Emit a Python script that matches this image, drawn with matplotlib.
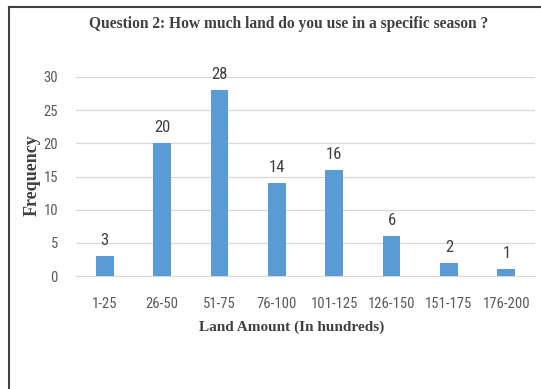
import matplotlib
matplotlib.use("Agg")
import matplotlib.pyplot as plt
from matplotlib.lines import Line2D
from matplotlib import font_manager

categories = ["1-25", "26-50", "51-75", "76-100", "101-125", "126-150", "151-175", "176-200"]
frequency = [3, 20, 28, 14, 16, 6, 2, 1]
yticks = [0, 5, 10, 15, 20, 25, 30]

# pick a narrow sans face when one is available
installed = {f.name for f in font_manager.fontManager.ttflist}
narrow = None
for name in ["Liberation Sans Narrow", "DejaVu Sans Condensed", "Roboto Condensed",
             "Open Sans Condensed"]:
    if name in installed:
        narrow = name
        break
if narrow is not None:
    tick_font, tick_size = [narrow, "DejaVu Sans"], 10.5
else:
    tick_font, tick_size = ["Liberation Sans", "DejaVu Sans"], 9

W, H = 541, 389
fig = plt.figure(figsize=(W / 100, H / 100), dpi=100)
ax = fig.add_axes([76 / W, 1 - 276 / H, (535 - 76) / W, (276 - 77) / H])

serif = ["Liberation Serif", "DejaVu Serif"]
text_gray = "#595959"

x = range(len(categories))
ax.bar(x, frequency, width=0.31, color="#5B9BD5", zorder=3)
for xi, v in zip(x, frequency):
    ax.text(xi, v + 1.2, str(v), ha="center", va="bottom", fontsize=tick_size + 1.5,
            color="#404040", family=tick_font)

ax.set_xlim(-0.5, len(categories) - 0.5)
ax.set_ylim(0, 30)
ax.set_yticks(yticks)
ax.set_xticks(list(x))
ax.set_xticklabels(categories, family=tick_font, fontsize=tick_size, color=text_gray)
ax.set_yticklabels([str(t) for t in yticks], family=tick_font, fontsize=tick_size,
                   color=text_gray)
ax.yaxis.grid(True, color="#d9d9d9", linewidth=0.9, zorder=0)
ax.tick_params(length=0, pad=13)
ax.tick_params(axis="x", pad=15)
for s in ["top", "right", "left"]:
    ax.spines[s].set_visible(False)
ax.spines["bottom"].set_color("#d9d9d9")

ax.set_xlabel("Land Amount (In hundreds)", family=serif, fontweight="bold",
              fontsize=11, color="#404040")
ax.xaxis.set_label_coords((292 - 76) / (535 - 76), -(321 - 276) / (276 - 77))
ax.set_ylabel("Frequency", family=serif, fontweight="bold", fontsize=13,
              color="#404040")
ax.yaxis.set_label_coords((41 - 76) / (535 - 76), (276 - 175) / (276 - 77))

fig.text(289 / W, 1 - 24 / H, "Question 2: How much land do you use in a specific season ?",
         ha="center", va="center", family=serif, fontweight="bold", fontsize=11.2,
         color="#404040")

# frame around the chart
fig.add_artist(Line2D([9 / W, 9 / W], [0, 1 - 7 / H], color="#404040", linewidth=1.5,
                      transform=fig.transFigure))
fig.add_artist(Line2D([9 / W, 1], [1 - 7 / H, 1 - 7 / H], color="#404040", linewidth=1.5,
                      transform=fig.transFigure))

fig.savefig("out.png", dpi=100)
